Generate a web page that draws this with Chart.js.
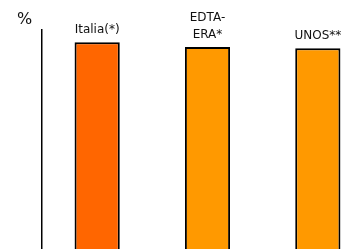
<!DOCTYPE html>
<html>
<head>
<meta charset="utf-8">
<script src="https://cdn.jsdelivr.net/npm/chart.js@4"></script>
<style>
  html, body { margin: 0; padding: 0; background: #fff; overflow: hidden; width: 352px; height: 249px; }
</style>
</head>
<body>
<canvas id="chart" width="373" height="273"></canvas>
<script>
// data
const categories = [["Italia(*)"], ["EDTA-", "ERA*"], ["UNOS**"]];
const values = [95, 93, 92.5];
const barColors = ["#FF6600", "#FF9900", "#FF9900"];

// writes each category name just above its bar
const barLabels = {
  id: "barLabels",
  afterDatasetsDraw(chart) {
    const ctx = chart.ctx;
    const meta = chart.getDatasetMeta(0);
    ctx.save();
    ctx.fillStyle = "#111";
    ctx.font = "12px 'DejaVu Sans'";
    ctx.textAlign = "center";
    ctx.textBaseline = "alphabetic";
    meta.data.forEach((bar, i) => {
      const lines = categories[i];
      lines.forEach((line, j) => {
        const fromBottom = lines.length - 1 - j;
        ctx.fillText(line, bar.x, bar.y - 9 - fromBottom * 17);
      });
    });
    ctx.font = "16px 'DejaVu Sans'";
    ctx.textAlign = "left";
    ctx.fillText("%", 17, 24);
    ctx.restore();
  }
};

const ctx = document.getElementById("chart").getContext("2d");
const myChart = new Chart(ctx, {
  type: "bar",
  data: {
    labels: categories.map(c => c.join(" ")),
    datasets: [
      {
        data: values,
        backgroundColor: barColors,
        borderColor: "#000",
        borderWidth: 2,
        categoryPercentage: 1,
        barPercentage: 0.41,
      },
    ],
  },
  options: {
    responsive: false,
    animation: false,
    layout: { padding: { left: 42, top: 30, right: 0, bottom: 0 } },
    scales: {
      x: { display: false },
      y: {
        min: 0,
        max: 100,
        ticks: { display: false },
        grid: { display: false, drawTicks: false },
        border: { display: true, color: "#000", width: 1.5 },
      },
    },
    plugins: {
      legend: { display: false },
      tooltip: { enabled: false },
    },
  },
  plugins: [barLabels],
});
</script>
</body>
</html>
